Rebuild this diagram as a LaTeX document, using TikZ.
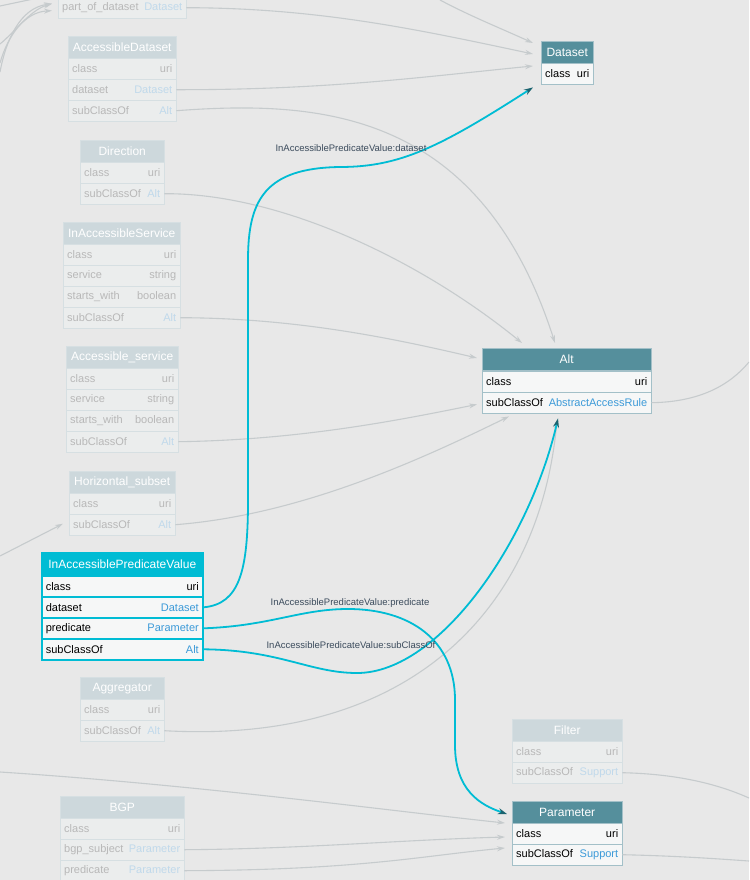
\documentclass[tikz,border=0pt]{standalone}
\usepackage{fontspec}
\setmainfont{Liberation Sans}
\usepackage{tikz}
\usetikzlibrary{calc}
\usetikzlibrary{arrows.meta}

\definecolor{bgcol}{HTML}{E8E8E8}
\definecolor{fadehead}{HTML}{CDD8DC}
\definecolor{fadeborder}{HTML}{D6DFE2}
\definecolor{faderow}{HTML}{EBEDED}
\definecolor{fadetext}{HTML}{B8B8B8}
\definecolor{fadetype}{HTML}{C0D9EB}
\definecolor{acthead}{HTML}{558F9C}
\definecolor{actborder}{HTML}{A3C0C8}
\definecolor{actrow}{HTML}{F6F7F7}
\definecolor{acttype}{HTML}{3C9AD8}
\definecolor{cyanl}{HTML}{00BCD4}
\definecolor{arrowdark}{HTML}{1B6470}
\definecolor{linegray}{HTML}{C6CBCD}
\definecolor{lblcol}{HTML}{3B4B5C}

\newcommand{\fty}[1]{\textcolor{fadetype}{#1}}
\newcommand{\aty}[1]{\textcolor{acttype}{#1}}

\begin{document}
\begin{tikzpicture}[x=1pt,y=-1pt]
\tikzstyle{every node}=[font=\fontsize{11}{13}\selectfont]
\tikzstyle{fhead}=[draw=fadeborder, fill=fadehead, text=white, anchor=north west, minimum height=22, inner sep=0, font=\fontsize{12}{14}\selectfont]
\tikzstyle{frow}=[draw=fadeborder, fill=faderow, text=fadetext, anchor=north west, minimum height=21, inner xsep=4, inner ysep=0]
\tikzstyle{ahead}=[fhead, draw=actborder, fill=acthead]
\tikzstyle{arow}=[frow, draw=actborder, fill=actrow, text=black]
\tikzstyle{phead}=[fhead, draw=cyanl, fill=cyanl, line width=1.6, minimum height=23]
\tikzstyle{prow}=[arow, draw=cyanl, line width=1.6]
\tikzstyle{gline}=[draw=linegray, line width=1.1, -{Stealth[length=8pt,width=5pt]}]
\tikzstyle{cline}=[draw=cyanl, line width=1.8, -{Stealth[length=9pt,width=6pt,color=arrowdark]}]
\tikzstyle{flowlbl}=[text=lblcol, font=\fontsize{9.5}{11}\selectfont]

\clip (0,0) rectangle (749,880);
\fill[bgcol] (0,0) rectangle (749,880);

% faded tables on the left
\node[frow, text width=120] (pod) at (58,-3) {part\_of\_dataset\hfill\fty{Dataset}};

\node[fhead, minimum width=108] (adset-h) at (68,36) {AccessibleDataset};
\foreach \nm/\ty [count=\i from 0] in {class/uri, dataset/\fty{Dataset}, subClassOf/\fty{Alt}}
  \node[frow, text width=100] (adset-\i) at (68,58+21*\i) {\nm\hfill\ty};

\node[fhead, minimum width=84] (dir-h) at (80,140) {Direction};
\foreach \nm/\ty [count=\i from 0] in {class/uri, subClassOf/\fty{Alt}}
  \node[frow, text width=76] (dir-\i) at (80,162+21*\i) {\nm\hfill\ty};

\node[fhead, minimum width=117] (iserv-h) at (63,222) {InAccessibleService};
\foreach \nm/\ty [count=\i from 0] in {class/uri, service/string, starts\_with/boolean, subClassOf/\fty{Alt}}
  \node[frow, text width=109] (iserv-\i) at (63,244+21*\i) {\nm\hfill\ty};

\node[fhead, minimum width=112] (aserv-h) at (66,346) {Accessible\_service};
\foreach \nm/\ty [count=\i from 0] in {class/uri, service/string, starts\_with/boolean, subClassOf/\fty{Alt}}
  \node[frow, text width=104] (aserv-\i) at (66,368+21*\i) {\nm\hfill\ty};

\node[fhead, minimum width=106] (hsub-h) at (69,471) {Horizontal\_subset};
\foreach \nm/\ty [count=\i from 0] in {class/uri, subClassOf/\fty{Alt}}
  \node[frow, text width=98] (hsub-\i) at (69,493+21*\i) {\nm\hfill\ty};

% the selected table
\node[phead, minimum width=161] (ipv-h) at (41,552) {InAccessiblePredicateValue};
\foreach \nm/\ty [count=\i from 0] in {class/uri, dataset/\aty{Dataset}, predicate/\aty{Parameter}, subClassOf/\aty{Alt}}
  \node[prow, text width=153] (ipv-\i) at (41,575+21*\i) {\nm\hfill\ty};

\node[fhead, minimum width=84] (agg-h) at (80,677) {Aggregator};
\foreach \nm/\ty [count=\i from 0] in {class/uri, subClassOf/\fty{Alt}}
  \node[frow, text width=76] (agg-\i) at (80,699+21*\i) {\nm\hfill\ty};

\node[fhead, minimum width=124] (bgp-h) at (60,796) {BGP};
\foreach \nm/\ty [count=\i from 0] in {class/uri, bgp\_subject/\fty{Parameter}, predicate/\fty{Parameter}}
  \node[frow, text width=116] (bgp-\i) at (60,818+21*\i) {\nm\hfill\ty};

% tables on the right
\node[ahead, minimum width=52] (dset-h) at (541,41) {Dataset};
\node[arow, text width=44] (dset-0) at (541,63) {class\hfill uri};

\node[ahead, minimum width=169] (alt-h) at (482,348) {Alt};
\foreach \nm/\ty [count=\i from 0] in {class/uri, subClassOf/\aty{AbstractAccessRule}}
  \node[arow, text width=161] (alt-\i) at (482,371+21*\i) {\nm\hfill\ty};

\node[fhead, minimum width=110] (filt-h) at (512,719) {Filter};
\foreach \nm/\ty [count=\i from 0] in {class/uri, subClassOf/\fty{Support}}
  \node[frow, text width=102] (filt-\i) at (512,741+21*\i) {\nm\hfill\ty};

\node[ahead, minimum width=110] (param-h) at (512,801) {Parameter};
\foreach \nm/\ty [count=\i from 0] in {class/uri, subClassOf/\aty{Support}}
  \node[arow, text width=102] (param-\i) at (512,823+21*\i) {\nm\hfill\ty};

% loose ends at the border
\coordinate (w0) at (0,6);
\coordinate (w0b) at (38,-2);
\coordinate (w1) at (0,44);
\coordinate (w2) at (0,63);
\coordinate (w3) at (0,72);
\coordinate (t1) at (440,0);
\coordinate (l1) at (0,556);
\coordinate (l2) at (0,772);
\coordinate (r1) at (749,362);
\coordinate (r2) at (749,798);
\coordinate (r3) at (749,861);

% grey links
\draw[gline, -] (w0) -- (w0b);
\draw[gline] (w1) .. controls (15,32) and (30,10) .. ($(pod.west)+(-6,-4)$);
\draw[gline] (w2) .. controls (8,35) and (25,12) .. ($(pod.west)+(-6,3)$);
\draw[gline] (w3) .. controls (6,40) and (20,8) .. ($(pod.west)+(-6,-4)$);
\draw[gline] (t1) .. controls (470,16) and (500,28) .. ($(dset-h.north west)+(-8,2)$);
\draw[gline] (pod.east) .. controls (320,8) and (420,30) .. ($(dset-h.north west)+(-8,13)$);
\draw[gline] (adset-1.east) .. controls (330,90) and (430,76) .. ($(dset-h.north west)+(-8,25)$);
\draw[gline] (adset-2.east) .. controls (320,100) and (480,110) .. ($(alt-h.north west)+(73,-5)$);
\draw[gline] (dir-1.east) .. controls (280,193) and (420,260) .. ($(alt-h.north west)+(40,-5)$);
\draw[gline] (iserv-3.east) .. controls (300,318) and (400,340) .. ($(alt-h.north west)+(-5,10)$);
\draw[gline] (aserv-3.east) .. controls (300,440) and (400,420) .. ($(alt-1.south west)+(-5,-9)$);
\draw[gline] (hsub-1.east) .. controls (300,515) and (420,460) .. ($(alt-1.south west)+(27,3)$);
\draw[gline] (agg-1.east) .. controls (420,745) and (540,600) .. ($(alt-1.south west)+(75,7)$);
\draw[gline, -] (alt-1.east) .. controls (700,402) and (730,385) .. (r1);
\draw[gline] (l1) -- ($(hsub-1.west)+(-6,-1)$);
\draw[gline] (l2) .. controls (200,785) and (400,812) .. ($(param-h.north west)+(-7,22)$);
\draw[gline] (bgp-1.east) .. controls (300,849) and (400,840) .. ($(param-h.north west)+(-7,36)$);
\draw[gline] (bgp-2.east) .. controls (360,870) and (420,856) .. ($(param-h.north west)+(-7,47)$);
\draw[gline, -] (filt-1.east) .. controls (680,774) and (720,785) .. (r2);
\draw[gline, -] (param-1.east) .. controls (680,856) and (720,859) .. (r3);

% links of InAccessiblePredicateValue
\draw[cline] (ipv-1.east) .. controls (240,604) and (248,570) .. (248,500) -- (248,260)
  .. controls (248,200) and (265,168) .. (340,167)
  .. controls (400,167) and (440,147) .. ($(dset-0.south west)+(-8,3)$);
\draw[cline] (ipv-2.east) .. controls (270,626) and (300,609) .. (348,609)
  .. controls (410,609) and (455,640) .. (455,700) -- (455,745)
  .. controls (455,790) and (480,805) .. ($(param-h.north west)+(-5,13)$);
\draw[cline] (ipv-3.east) .. controls (280,650) and (310,673) .. (357,673)
  .. controls (440,673) and (530,540) .. ($(alt-1.south west)+(76,5)$);

\node[flowlbl] (lbl-ds) at (351,148) {InAccessiblePredicateValue:dataset};
\node[flowlbl] (lbl-pr) at (350,603) {InAccessiblePredicateValue:predicate};
\node[flowlbl] (lbl-sc) at (351,645) {InAccessiblePredicateValue:subClassOf};

\end{tikzpicture}
\end{document}
